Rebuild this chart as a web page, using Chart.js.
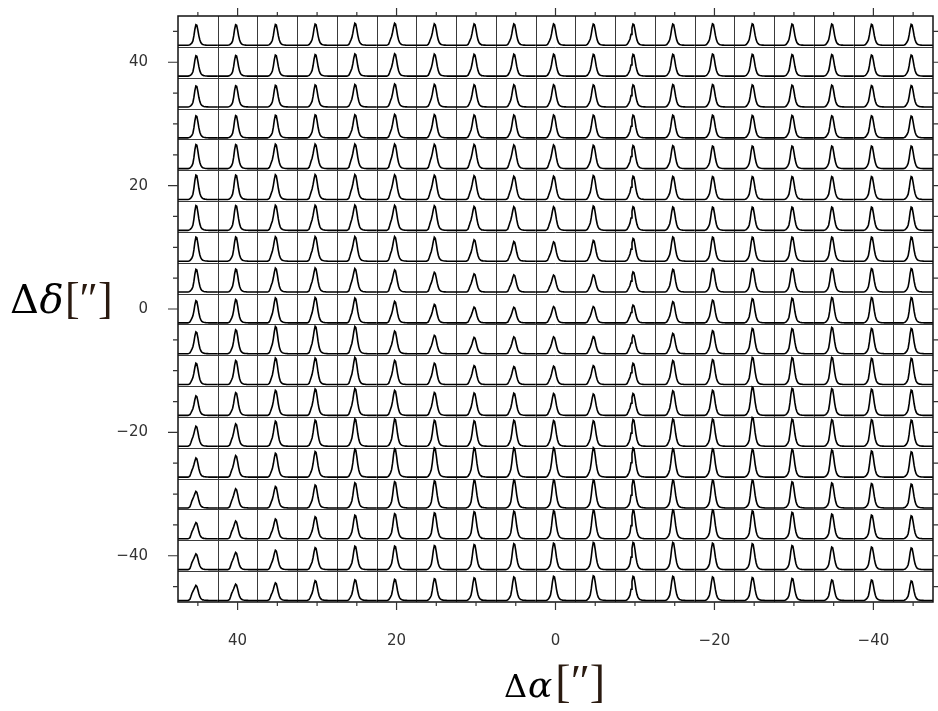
<!DOCTYPE html>
<html>
<head>
<meta charset="utf-8">
<script src="https://cdn.jsdelivr.net/npm/chart.js@4.4.0/dist/chart.umd.min.js"></script>
<style>
  html, body { margin: 0; padding: 0; background: #fff; }
  #wrap { width: 938px; height: 711px; }
</style>
</head>
<body>
<div id="wrap"><canvas id="mapChart" width="938" height="711"></canvas></div>
<script>
// map positions (arcsec); columns run east -> west, rows north -> south
const raOffsets = [45, 40, 35, 30, 25, 20, 15, 10, 5, 0, -5, -10, -15, -20, -25, -30, -35, -40, -45];
const decOffsets = [45, 40, 35, 30, 25, 20, 15, 10, 5, 0, -5, -10, -15, -20, -25, -30, -35, -40, -45];
const tickLabels = [40, 20, 0, -20, -40];

// normalised line shapes sampled over 41 channels across a box
const coreProfile = [0, 0, 0, 0, 0, 0, 0, 0, 0, 0,
  0, 0.01, 0.02, 0.035, 0.06, 0.15, 0.4, 0.75, 0.97, 0.95,
  0.72, 0.45, 0.25, 0.13, 0.07, 0.04, 0.025, 0.015, 0.01, 0.006,
  0.003, 0, 0, 0, 0, 0, 0, 0, 0, 0, 0];
const kneeProfile = [0, 0, 0, 0, 0, 0, 0, 0, 0, 0,
  0, 0.03, 0.12, 0.5, 0.9, 1.0, 0.75, 0.3, 0.1, 0,
  0, 0, 0, 0, 0, 0, 0, 0, 0, 0,
  0, 0, 0, 0, 0, 0, 0, 0, 0, 0, 0];

// peak height of the main component (fraction of box height), row by row
const peakHeight = [
  [0.68, 0.68, 0.69, 0.70, 0.72, 0.72, 0.70, 0.70, 0.70, 0.70, 0.70, 0.70, 0.70, 0.71, 0.71, 0.70, 0.70, 0.69, 0.69],
  [0.68, 0.69, 0.70, 0.71, 0.73, 0.73, 0.72, 0.72, 0.72, 0.72, 0.72, 0.72, 0.72, 0.73, 0.72, 0.71, 0.71, 0.70, 0.70],
  [0.70, 0.71, 0.72, 0.73, 0.74, 0.75, 0.74, 0.73, 0.73, 0.73, 0.73, 0.73, 0.74, 0.74, 0.73, 0.72, 0.72, 0.71, 0.71],
  [0.73, 0.74, 0.75, 0.76, 0.76, 0.77, 0.76, 0.75, 0.75, 0.75, 0.75, 0.75, 0.75, 0.75, 0.74, 0.74, 0.73, 0.73, 0.72],
  [0.80, 0.80, 0.80, 0.80, 0.80, 0.80, 0.79, 0.79, 0.77, 0.77, 0.77, 0.76, 0.76, 0.75, 0.75, 0.75, 0.75, 0.75, 0.75],
  [0.81, 0.81, 0.81, 0.81, 0.81, 0.80, 0.79, 0.77, 0.76, 0.76, 0.79, 0.77, 0.76, 0.76, 0.76, 0.76, 0.76, 0.76, 0.76],
  [0.82, 0.82, 0.82, 0.82, 0.82, 0.81, 0.80, 0.78, 0.77, 0.77, 0.80, 0.78, 0.77, 0.77, 0.77, 0.77, 0.77, 0.77, 0.77],
  [0.80, 0.80, 0.80, 0.80, 0.80, 0.80, 0.78, 0.70, 0.64, 0.63, 0.68, 0.75, 0.80, 0.80, 0.80, 0.80, 0.80, 0.80, 0.80],
  [0.75, 0.76, 0.78, 0.78, 0.76, 0.72, 0.64, 0.59, 0.56, 0.55, 0.56, 0.66, 0.75, 0.78, 0.78, 0.78, 0.78, 0.78, 0.78],
  [0.73, 0.77, 0.82, 0.83, 0.81, 0.70, 0.60, 0.51, 0.51, 0.53, 0.53, 0.58, 0.70, 0.75, 0.80, 0.82, 0.84, 0.84, 0.84],
  [0.72, 0.79, 0.89, 0.90, 0.89, 0.74, 0.60, 0.53, 0.55, 0.55, 0.56, 0.61, 0.67, 0.76, 0.84, 0.83, 0.87, 0.84, 0.84],
  [0.70, 0.79, 0.87, 0.87, 0.89, 0.79, 0.70, 0.62, 0.59, 0.60, 0.62, 0.70, 0.79, 0.82, 0.90, 0.89, 0.90, 0.87, 0.87],
  [0.64, 0.75, 0.82, 0.86, 0.88, 0.82, 0.75, 0.73, 0.73, 0.72, 0.70, 0.72, 0.81, 0.83, 0.94, 0.90, 0.89, 0.87, 0.84],
  [0.65, 0.73, 0.82, 0.86, 0.90, 0.90, 0.86, 0.84, 0.86, 0.85, 0.84, 0.88, 0.90, 0.90, 0.96, 0.90, 0.88, 0.88, 0.87],
  [0.62, 0.70, 0.78, 0.84, 0.92, 0.94, 0.97, 0.97, 0.97, 0.97, 0.97, 0.97, 0.94, 0.94, 0.92, 0.92, 0.90, 0.87, 0.84],
  [0.53, 0.62, 0.70, 0.75, 0.83, 0.87, 0.90, 0.92, 0.93, 0.93, 0.93, 0.92, 0.92, 0.92, 0.92, 0.87, 0.83, 0.81, 0.79],
  [0.52, 0.57, 0.64, 0.72, 0.78, 0.83, 0.86, 0.90, 0.92, 0.93, 0.95, 0.95, 0.96, 0.96, 0.93, 0.88, 0.82, 0.79, 0.76],
  [0.50, 0.55, 0.63, 0.72, 0.77, 0.78, 0.80, 0.83, 0.86, 0.88, 0.90, 0.90, 0.90, 0.88, 0.86, 0.80, 0.75, 0.75, 0.72],
  [0.48, 0.52, 0.57, 0.65, 0.68, 0.70, 0.72, 0.75, 0.78, 0.80, 0.82, 0.80, 0.80, 0.78, 0.76, 0.73, 0.68, 0.68, 0.65]
];

// height of the blue-shifted shoulder, row by row
const wingHeight = [
  [0.04, 0.04, 0.06, 0.08, 0.14, 0.18, 0.16, 0.14, 0.12, 0.12, 0.10, 0.10, 0.08, 0.08, 0.08, 0.08, 0.08, 0.08, 0.08],
  [0.04, 0.04, 0.06, 0.08, 0.14, 0.18, 0.16, 0.14, 0.12, 0.12, 0.10, 0.10, 0.08, 0.08, 0.08, 0.08, 0.08, 0.08, 0.08],
  [0.04, 0.04, 0.06, 0.08, 0.14, 0.18, 0.16, 0.14, 0.12, 0.12, 0.10, 0.10, 0.08, 0.08, 0.08, 0.08, 0.08, 0.08, 0.08],
  [0.04, 0.04, 0.06, 0.08, 0.14, 0.18, 0.16, 0.14, 0.12, 0.12, 0.10, 0.10, 0.08, 0.08, 0.08, 0.08, 0.08, 0.08, 0.08],
  [0.05, 0.06, 0.18, 0.22, 0.24, 0.24, 0.24, 0.22, 0.22, 0.20, 0.12, 0.12, 0.10, 0.08, 0.06, 0.06, 0.06, 0.06, 0.06],
  [0.05, 0.06, 0.18, 0.22, 0.24, 0.24, 0.24, 0.22, 0.22, 0.20, 0.12, 0.12, 0.10, 0.08, 0.06, 0.06, 0.06, 0.06, 0.06],
  [0.05, 0.06, 0.18, 0.22, 0.24, 0.24, 0.24, 0.22, 0.22, 0.20, 0.12, 0.12, 0.10, 0.08, 0.06, 0.06, 0.06, 0.06, 0.06],
  [0.06, 0.08, 0.20, 0.22, 0.24, 0.22, 0.20, 0.18, 0.16, 0.16, 0.12, 0.12, 0.10, 0.06, 0.06, 0.06, 0.06, 0.06, 0.06],
  [0.06, 0.08, 0.20, 0.22, 0.24, 0.22, 0.20, 0.18, 0.16, 0.16, 0.12, 0.12, 0.10, 0.06, 0.06, 0.06, 0.06, 0.06, 0.06],
  [0.12, 0.12, 0.18, 0.20, 0.20, 0.18, 0.16, 0.15, 0.14, 0.14, 0.14, 0.14, 0.12, 0.10, 0.08, 0.06, 0.06, 0.06, 0.06],
  [0.12, 0.12, 0.18, 0.20, 0.20, 0.18, 0.16, 0.15, 0.14, 0.14, 0.14, 0.14, 0.12, 0.10, 0.08, 0.06, 0.06, 0.06, 0.06],
  [0.12, 0.12, 0.18, 0.20, 0.20, 0.18, 0.16, 0.15, 0.14, 0.14, 0.14, 0.14, 0.12, 0.10, 0.08, 0.06, 0.06, 0.06, 0.06],
  [0.12, 0.12, 0.18, 0.20, 0.20, 0.18, 0.16, 0.15, 0.14, 0.14, 0.14, 0.14, 0.12, 0.10, 0.08, 0.06, 0.06, 0.06, 0.06],
  [0.20, 0.20, 0.16, 0.14, 0.12, 0.10, 0.10, 0.10, 0.10, 0.12, 0.12, 0.10, 0.10, 0.08, 0.06, 0.06, 0.06, 0.06, 0.06],
  [0.20, 0.20, 0.16, 0.14, 0.12, 0.10, 0.10, 0.10, 0.10, 0.12, 0.12, 0.10, 0.10, 0.08, 0.06, 0.06, 0.06, 0.06, 0.06],
  [0.22, 0.22, 0.18, 0.14, 0.10, 0.08, 0.06, 0.06, 0.06, 0.06, 0.06, 0.06, 0.06, 0.06, 0.05, 0.05, 0.05, 0.05, 0.05],
  [0.22, 0.22, 0.18, 0.14, 0.10, 0.08, 0.06, 0.06, 0.06, 0.06, 0.06, 0.06, 0.06, 0.06, 0.05, 0.05, 0.05, 0.05, 0.05],
  [0.22, 0.22, 0.18, 0.14, 0.10, 0.08, 0.06, 0.06, 0.06, 0.06, 0.06, 0.06, 0.06, 0.06, 0.05, 0.05, 0.05, 0.05, 0.05],
  [0.22, 0.22, 0.18, 0.14, 0.10, 0.08, 0.06, 0.06, 0.06, 0.06, 0.06, 0.06, 0.06, 0.06, 0.05, 0.05, 0.05, 0.05, 0.05]
];

const BOX = 5;          // box size in arcsec
const BASE = 0.05;      // baseline level inside a box

function minusLabel(v) {
  return v < 0 ? '\u2212' + Math.abs(v) : String(v);
}

// one dataset per map position, placed inside its box through the axis units
const datasets = [];
decOffsets.forEach((dec, r) => {
  raOffsets.forEach((ra, c) => {
    const n = coreProfile.length;
    const pts = coreProfile.map((v, k) => ({
      x: ra + BOX / 2 - (k / (n - 1)) * BOX,
      y: dec - BOX / 2 + (BASE + peakHeight[r][c] * v + wingHeight[r][c] * kneeProfile[k]) * BOX
    }));
    datasets.push({
      data: pts,
      showLine: true,
      borderColor: '#000',
      borderWidth: 1.6,
      pointRadius: 0,
      tension: 0
    });
  });
});

function drawMath(ctx, parts, x, y, align) {
  let total = 0;
  parts.forEach(p => { ctx.font = p.font; p.w = ctx.measureText(p.text).width + (p.gap || 0); total += p.w; });
  let cx = align === 'center' ? x - total / 2 : x;
  ctx.textBaseline = 'alphabetic';
  ctx.textAlign = 'left';
  parts.forEach(p => {
    ctx.font = p.font;
    ctx.fillStyle = p.color || '#000';
    ctx.fillText(p.text, cx + (p.gap || 0) / 2, y + (p.dy || 0));
    cx += p.w;
  });
}

const boxFrame = {
  id: 'boxFrame',
  beforeDatasetsDraw(chart) {
    const { ctx, chartArea: a, scales: { x, y } } = chart;
    ctx.save();
    ctx.strokeStyle = '#3a3a3a';
    ctx.lineWidth = 1;
    ctx.beginPath();
    raOffsets.slice(1).forEach(v => {
      const px = Math.round(x.getPixelForValue(v + BOX / 2)) + 0.5;
      ctx.moveTo(px, a.top); ctx.lineTo(px, a.bottom);
    });
    decOffsets.slice(1).forEach(v => {
      const py = Math.round(y.getPixelForValue(v + BOX / 2)) + 0.5;
      ctx.moveTo(a.left, py); ctx.lineTo(a.right, py);
    });
    ctx.stroke();
    ctx.restore();
  },
  afterDatasetsDraw(chart) {
    const { ctx, chartArea: a, scales: { x, y } } = chart;
    ctx.save();
    ctx.strokeStyle = '#111';
    ctx.lineWidth = 1.5;
    ctx.strokeRect(a.left, a.top, a.right - a.left, a.bottom - a.top);

    // outward tick marks on all four sides
    ctx.lineWidth = 1.2;
    ctx.strokeStyle = '#333';
    ctx.beginPath();
    raOffsets.forEach(v => {
      const px = x.getPixelForValue(v);
      const len = v % 20 === 0 ? 8 : 4;
      ctx.moveTo(px, a.bottom); ctx.lineTo(px, a.bottom + len);
      ctx.moveTo(px, a.top); ctx.lineTo(px, a.top - len);
    });
    decOffsets.forEach(v => {
      const py = y.getPixelForValue(v);
      const len = v % 20 === 0 ? 10 : 5;
      ctx.moveTo(a.left, py); ctx.lineTo(a.left - len, py);
      ctx.moveTo(a.right, py); ctx.lineTo(a.right + len, py);
    });
    ctx.stroke();

    // axis titles
    drawMath(ctx, [
      { text: '\u0394', font: '32px "DejaVu Serif"' },
      { text: '\u03b1', font: 'italic 36px "DejaVu Serif"', gap: 2 },
      { text: '[\u2033]', font: '46px "Liberation Serif"', color: '#2a1a10', gap: 4 }
    ], x.getPixelForValue(0), 697, 'center');
    drawMath(ctx, [
      { text: '\u0394', font: '40px "DejaVu Serif"' },
      { text: '\u03b4', font: 'italic 40px "DejaVu Serif"', gap: 1 },
      { text: '[\u2033]', font: '44px "Liberation Serif"', color: '#2a1a10', gap: 2 }
    ], 10, 313, 'left');
    ctx.restore();
  }
};

const tickFont = { family: 'DejaVu Sans', size: 15 };

new Chart(document.getElementById('mapChart').getContext('2d'), {
  type: 'scatter',
  data: { datasets },
  options: {
    responsive: false,
    animation: false,
    devicePixelRatio: 1,
    layout: { autoPadding: false, padding: { left: 0, right: 5, top: 16, bottom: 0 } },
    plugins: { legend: { display: false }, tooltip: { enabled: false }, title: { display: false } },
    events: [],
    scales: {
      x: {
        type: 'linear',
        reverse: true,
        min: -47.5,
        max: 47.5,
        afterBuildTicks: s => { s.ticks = tickLabels.map(v => ({ value: v })); },
        afterFit: s => { s.height = 109; s.paddingLeft = 0; s.paddingRight = 0; },
        grid: { display: false, drawTicks: false },
        border: { display: false },
        ticks: { padding: 30, color: '#333', font: tickFont, maxRotation: 0, autoSkip: false, callback: minusLabel }
      },
      y: {
        type: 'linear',
        min: -47.5,
        max: 47.5,
        afterBuildTicks: s => { s.ticks = tickLabels.map(v => ({ value: v })); },
        afterFit: s => { s.width = 178; s.paddingTop = 0; s.paddingBottom = 0; },
        grid: { display: false, drawTicks: false },
        border: { display: false },
        ticks: { padding: 30, color: '#333', font: tickFont, autoSkip: false, callback: minusLabel }
      }
    }
  },
  plugins: [boxFrame]
});
</script>
</body>
</html>
